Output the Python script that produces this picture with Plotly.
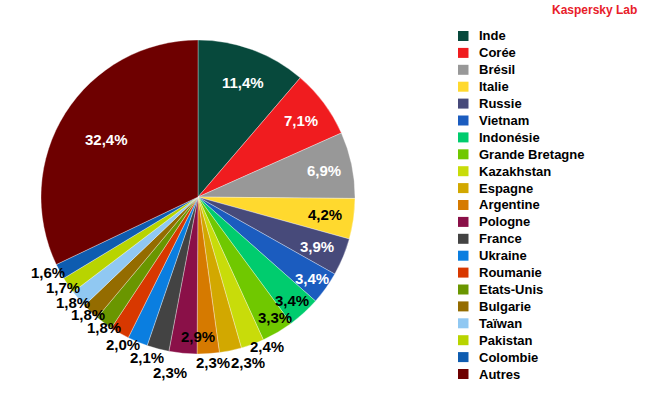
import math
import plotly.graph_objects as go

countries = ["Inde", "Corée", "Brésil", "Italie", "Russie", "Vietnam", "Indonésie",
             "Grande Bretagne", "Kazakhstan", "Espagne", "Argentine", "Pologne", "France",
             "Ukraine", "Roumanie", "Etats-Unis", "Bulgarie", "Taïwan", "Pakistan",
             "Colombie", "Autres"]
shares = [11.4, 7.1, 6.9, 4.2, 3.9, 3.4, 3.4, 3.3, 2.4, 2.3, 2.3, 2.9, 2.3,
          2.1, 2.0, 1.8, 1.8, 1.8, 1.7, 1.6, 32.4]
colors = ["#07493c", "#f01c1f", "#989898", "#ffd92e", "#474a7a", "#1b5cbf", "#00cc6e",
          "#70c800", "#c8dc0a", "#d2a800", "#d67a00", "#8a1048", "#434343",
          "#0a7ee0", "#d83800", "#6a9600", "#946c00", "#90c8f2", "#b8d400",
          "#0e5cb0", "#6e0000"]
label_colors = ["white", "white", "white", "black", "white", "white"] + ["black"] * 14 + ["white"]
# label placement: "in" = inside near the rim, "rim" = straddling rim, "out" = outside
label_place = ["in"] * 5 + ["rim"] * 3 + ["out"] * 3 + ["rim"] + ["out"] * 8 + ["center"]
# small label nudges (pixels) where labels were spread to avoid collisions
label_nudge = {"Inde": (0, 6), "Kazakhstan": (11, -8), "Espagne": (15, 1), "Argentine": (4, -2),
               "Pologne": (13, 0), "France": (15, 13), "Ukraine": (14, 5), "Roumanie": (9, 2),
               "Etats-Unis": (6, -4), "Bulgarie": (5, -5), "Taïwan": (3, -4),
               "Pakistan": (4, -4), "Colombie": (-2, -4), "Grande Bretagne": (6, 0)}

W, H = 650, 400
FONT = "Liberation Sans, Arial, sans-serif"


def px_x(X):
    return X / W


def px_y(Y):
    return 1 - Y / H


# pie centre / radius in window pixels
CX, CY, R = 198, 197, 157
dom_x = [px_x(CX - R), px_x(CX + R)]
dom_y = [px_y(CY + R), px_y(CY - R)]

fig = go.Figure(go.Pie(
    labels=countries,
    values=shares,
    textinfo="none",
    marker=dict(colors=colors, line=dict(color="rgba(255,255,255,0.55)", width=0.6)),
    sort=False,
    direction="clockwise",
    rotation=0,
    domain=dict(x=dom_x, y=dom_y),
    hoverinfo="label+percent",
    showlegend=False,
))

# data labels, placed along each slice's mid-angle
radius_factor = {"in": 0.82, "rim": 0.89, "out": 1.07, "center": 0.69}
total = sum(shares)
annotations = []
cum = 0.0
for name, v, col, place in zip(countries, shares, label_colors, label_place):
    mid = (cum + v / 2) / total * 2 * math.pi
    cum += v
    r = R * radius_factor[place]
    dx, dy = label_nudge.get(name, (0, 0))
    X = CX + r * math.sin(mid) + dx
    Y = CY - r * math.cos(mid) + dy
    annotations.append(dict(
        text="<b>" + f"{v:.1f}%".replace(".", ",") + "</b>",
        x=px_x(X), y=px_y(Y), xref="paper", yref="paper",
        xanchor="center", yanchor="middle", showarrow=False,
        font=dict(family=FONT, size=15, color=col),
    ))

# legend drawn as squares + labels
leg_top, leg_step = 36, 16.9
shapes = []
for i, (name, col) in enumerate(zip(countries, colors)):
    yc = leg_top + i * leg_step
    shapes.append(dict(type="rect", xref="paper", yref="paper",
                       x0=px_x(458), x1=px_x(468.5), y0=px_y(yc - 5), y1=px_y(yc + 5),
                       fillcolor=col, line=dict(width=0)))
    annotations.append(dict(
        text="<b>" + name + "</b>", x=px_x(477), y=px_y(yc), xref="paper", yref="paper",
        xanchor="left", yanchor="middle", showarrow=False,
        font=dict(family=FONT, size=13, color="black"),
    ))

annotations.append(dict(
    text="<b>Kaspersky Lab</b>", x=px_x(639), y=px_y(10), xref="paper", yref="paper",
    xanchor="right", yanchor="middle", showarrow=False,
    font=dict(size=12, color="#e8202a", family=FONT),
))

fig.update_layout(
    width=W, height=H,
    margin=dict(l=0, r=0, t=0, b=0),
    paper_bgcolor="white",
    plot_bgcolor="white",
    font=dict(family=FONT),
    showlegend=False,
    annotations=annotations,
    shapes=shapes,
)

# remove the default page margin so the 650x400 figure fills the window exactly
fig.write_html("out.html", config={"displayModeBar": False},
               post_script="document.body.style.margin='0px';")
